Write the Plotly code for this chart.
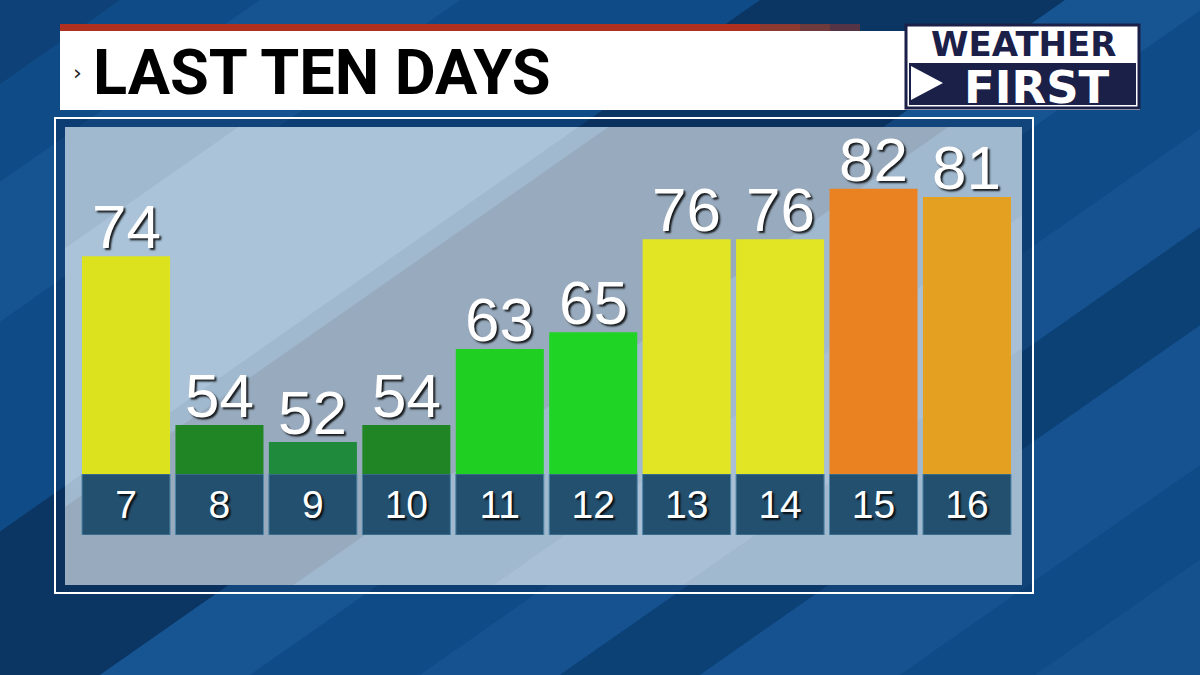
import plotly.graph_objects as go

# ---------------- data ----------------
days = ["7", "8", "9", "10", "11", "12", "13", "14", "15", "16"]
highs = [74, 54, 52, 54, 63, 65, 76, 76, 82, 81]
bar_colors = ["#dde21f", "#1f8525", "#1f8a3b", "#1f8525", "#1fcf21",
              "#1fd424", "#e1e523", "#e1e523", "#eb8221", "#e4a021"]
title_text = "LAST TEN DAYS"
y_range = [48.2, 89.3]

W, H = 1200, 675
K = 1.43  # stripe slope factor (c = x + K*y)


def px(x):
    return x / W


def py(y):
    return 1 - y / H


def clip_rect(pts, x0, y0, x1, y1):
    def clip(poly, inside, inter):
        out = []
        n = len(poly)
        for i in range(n):
            cur, prev = poly[i], poly[i - 1]
            if inside(cur):
                if not inside(prev):
                    out.append(inter(prev, cur))
                out.append(cur)
            elif inside(prev):
                out.append(inter(prev, cur))
        return out

    def ix(xv):
        return lambda a, b: (xv, a[1] + (b[1] - a[1]) * (xv - a[0]) / (b[0] - a[0]))

    def iy(yv):
        return lambda a, b: (a[0] + (b[0] - a[0]) * (yv - a[1]) / (b[1] - a[1]), yv)

    p = pts
    p = clip(p, lambda q: q[0] >= x0, ix(x0)) if p else p
    p = clip(p, lambda q: q[0] <= x1, ix(x1)) if p else p
    p = clip(p, lambda q: q[1] >= y0, iy(y0)) if p else p
    p = clip(p, lambda q: q[1] <= y1, iy(y1)) if p else p
    return p


fig = go.Figure()

# temperature bars
fig.add_trace(go.Bar(
    x=days, y=highs, marker=dict(color=bar_colors, line=dict(width=0)),
    xaxis="x", yaxis="y", hoverinfo="skip", showlegend=False,
))

# day label boxes
fig.add_trace(go.Bar(
    x=days, y=[1] * len(days),
    marker=dict(color="#24506f", line=dict(width=1, color="#4f87a8")),
    text=days, textposition="inside", insidetextanchor="middle",
    textfont=dict(family="Liberation Sans, Arial", size=39, color="white",
                  shadow="2px 2px 2px rgba(0,0,0,0.85)"),
    xaxis="x", yaxis="y2", hoverinfo="skip", showlegend=False,
))

shapes = []


def poly(pts, color, layer="below", line=None):
    if not pts:
        return
    path = "M " + " L ".join(f"{px(x):.5f},{py(y):.5f}" for x, y in pts) + " Z"
    shapes.append(dict(type="path", path=path, xref="paper", yref="paper",
                       fillcolor=color, line=line or dict(width=0), layer=layer))


def band(c1, c2, color, box=(0, 0, W, H)):
    x0, y0, x1, y1 = box
    pts = [(c1 - K * y0, y0), (c2 - K * y0, y0), (c2 - K * y1, y1), (c1 - K * y1, y1)]
    poly(clip_rect(pts, x0, y0, x1, y1), color)


def rect(x0, y0, x1, y1, color, layer="below", line=None):
    shapes.append(dict(type="rect", xref="paper", yref="paper",
                       x0=px(x0), x1=px(x1), y0=py(y1), y1=py(y0),
                       fillcolor=color, line=line or dict(width=0), layer=layer))


# background diagonal stripes (subtle)
band(-100, 120, "rgba(8,35,75,0.25)")
band(260, 460, "rgba(70,140,210,0.14)")
band(760, 1065, "rgba(4,22,50,0.40)")
band(1065, 1215, "rgba(70,140,210,0.16)")
band(1385, 1525, "rgba(70,140,210,0.12)")
band(1525, 1665, "rgba(6,30,65,0.22)")
band(1665, 1865, "rgba(70,140,210,0.12)")
band(2000, 2300, "rgba(70,140,210,0.10)")

# panel
rect(55, 118, 1033, 593, "rgba(8,40,80,0.35)", line=dict(color="white", width=2))
PANEL = (65, 127, 1022, 585)
rect(*PANEL, "#a0b9cf")
band(420, 760, "rgba(195,218,238,0.30)", PANEL)
band(790, 1130, "rgba(140,150,165,0.40)", PANEL)
band(1330, 1520, "rgba(190,212,232,0.25)", PANEL)

# title bar
rect(60, 31, 1140, 110, "white", layer="above")
rect(60, 24, 760, 31, "#b0301f", layer="above")
rect(760, 24, 800, 31, "#8f3a30", layer="above")
rect(800, 24, 830, 31, "#6e3a3c", layer="above")
rect(830, 24, 860, 31, "#553445", layer="above")

# logo
shapes.append(dict(type="rect", xref="paper", yref="paper",
                   x0=px(906), x1=px(1139), y0=py(108), y1=py(25),
                   fillcolor="white", line=dict(color="#1b2048", width=3),
                   layer="above"))
rect(909, 63, 1136, 105, "#1b2048", layer="above")
poly([(911, 66), (943, 83), (911, 100)], "white", layer="above")

fig.update_layout(shapes=shapes)

annotations = [
    dict(text="›", x=px(71), y=py(72), xref="paper", yref="paper",
         xanchor="left", yanchor="middle", showarrow=False,
         font=dict(family="DejaVu Sans", size=22, color="#222")),
    dict(text="<b>" + title_text + "</b>", x=px(91), y=py(73), xref="paper",
         yref="paper", xanchor="left", yanchor="middle", showarrow=False,
         font=dict(family="Roboto", size=63, color="black")),
    dict(text="<b>WEATHER</b>", x=px(1023), y=py(44), xref="paper", yref="paper",
         xanchor="center", yanchor="middle", showarrow=False,
         font=dict(family="DejaVu Sans", size=34, color="#1b2048")),
    dict(text="<b>FIRST</b>", x=px(1037), y=py(87.5), xref="paper", yref="paper",
         xanchor="center", yanchor="middle", showarrow=False,
         font=dict(family="DejaVu Sans", size=45, color="white")),
]

# value labels above the bars (x given as category index)
for i, v in enumerate(highs):
    annotations.append(dict(
        text=str(v), x=i, y=v, xref="x", yref="y", xanchor="center",
        yanchor="bottom", yshift=-7, showarrow=False,
        font=dict(family="Liberation Sans, Arial", size=62, color="white",
                  shadow="2px 2px 2px rgba(0,0,0,0.85)"),
    ))

fig.update_layout(
    width=W, height=H,
    margin=dict(l=0, r=0, t=0, b=0),
    paper_bgcolor="#0f4b86", plot_bgcolor="rgba(0,0,0,0)",
    bargap=0.058,
    annotations=annotations,
    xaxis=dict(domain=[px(79.3), px(1013.7)], range=[-0.5, 9.5], visible=False,
               type="category", fixedrange=True),
    yaxis=dict(domain=[py(474), py(127)], range=y_range, visible=False),
    yaxis2=dict(domain=[py(535), py(474)], range=[0, 1], visible=False),
    showlegend=False,
)

fig.write_html(
    "out.html",
    config={"displayModeBar": False},
    post_script="document.body.style.margin='0';document.body.style.overflow='hidden';",
)
